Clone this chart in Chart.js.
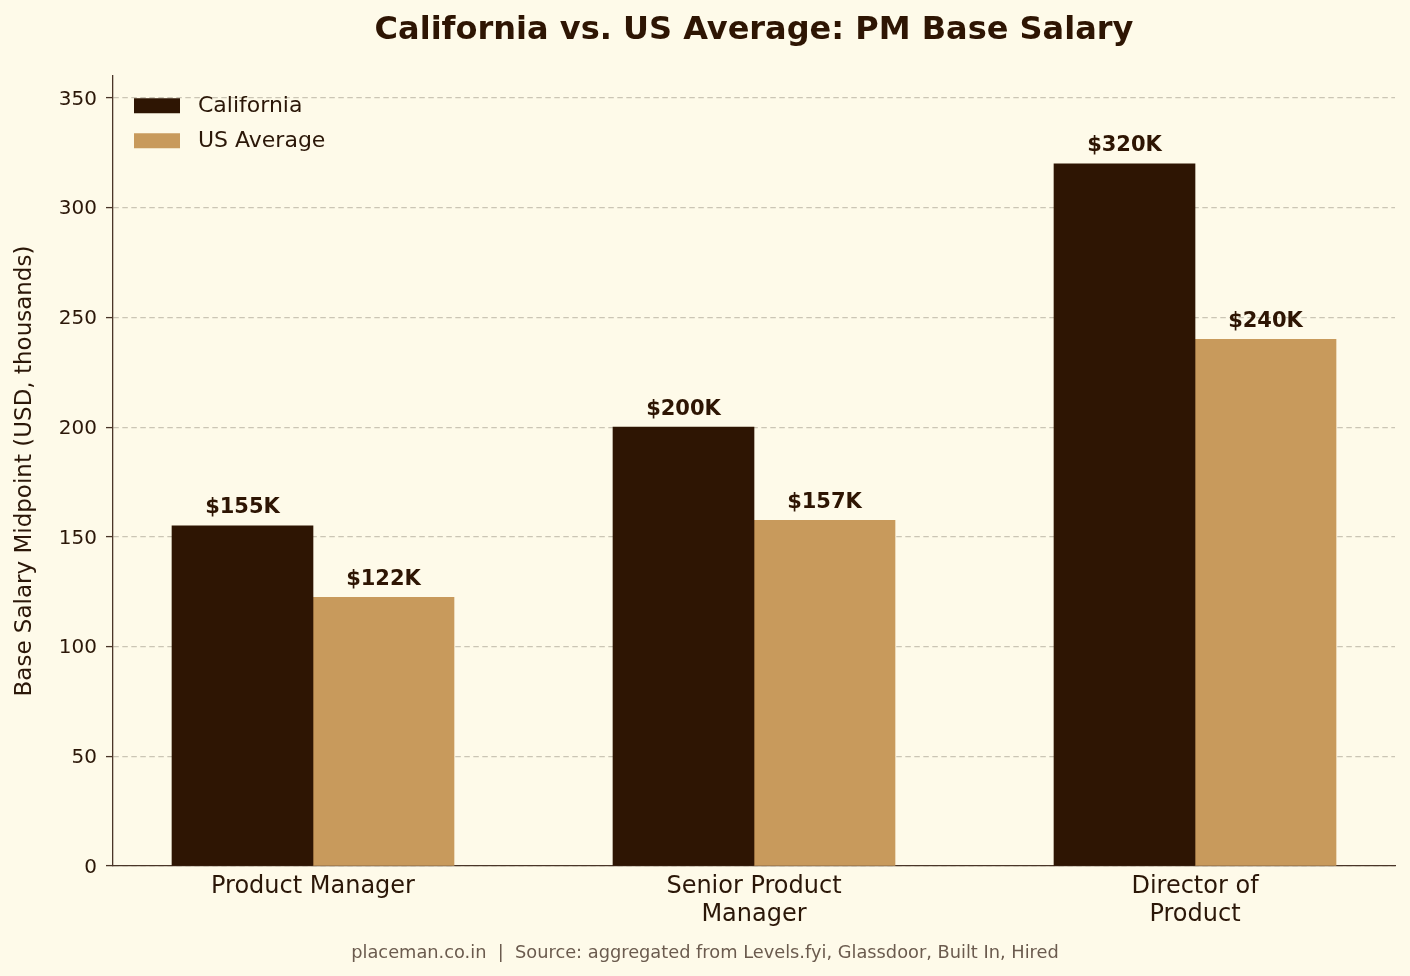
<!DOCTYPE html>
<html>
<head>
<meta charset="utf-8">
<script src="https://cdn.jsdelivr.net/npm/chart.js@4.4.1/dist/chart.umd.min.js"></script>
<style>
  html, body { margin: 0; padding: 0; background: #fefae9; }
  #wrap { width: 1410px; height: 976px; }
</style>
</head>
<body>
<div id="wrap"><canvas id="salaryChart" width="1410" height="976"></canvas></div>
<script>
// ---- data ----
const roles = ["Product Manager", ["Senior Product", "Manager"], ["Director of", "Product"]];
const californiaSalary = [155, 200, 320];
const usAverageSalary = [122.5, 157.5, 240];
const yTickValues = [0, 50, 100, 150, 200, 250, 300, 350];

const darkBrown = "#2e1503";
const tan = "#c89a5c";
const textColor = "#2b1708";
const axisColor = "#4a3528";
const font = "DejaVu Sans";

Chart.defaults.font.family = font;
Chart.defaults.color = textColor;

const roleIndex = roles.map((r, i) => i);

// value labels above bars
const valueLabels = {
    id: "valueLabels",
    afterDatasetsDraw(chart) {
        const ctx = chart.ctx;
        ctx.save();
        ctx.font = "bold 21px '" + font + "'";
        ctx.fillStyle = darkBrown;
        ctx.textAlign = "center";
        ctx.textBaseline = "alphabetic";
        chart.data.datasets.forEach((ds, di) => {
            chart.getDatasetMeta(di).data.forEach((bar, i) => {
                ctx.fillText("$" + Math.floor(ds.data[i].y) + "K", bar.x, bar.y - 12.5);
            });
        });
        ctx.restore();
    }
};

// put the legend inside the plot, top-left
const legendInside = {
    id: "legendInside",
    afterLayout(chart) {
        const lg = chart.legend, a = chart.chartArea;
        lg.left = a.left + 8;
        lg.top = a.top + 5.8;
        lg.right = a.right;
        lg.bottom = a.bottom;
    }
};

new Chart(document.getElementById("salaryChart"), {
    type: "bar",
    data: {
        datasets: [{
            label: "California",
            data: californiaSalary.map((v, i) => ({ x: roleIndex[i], y: v })),
            backgroundColor: darkBrown,
            borderWidth: 0,
            barThickness: 141
        }, {
            label: "US Average",
            data: usAverageSalary.map((v, i) => ({ x: roleIndex[i], y: v })),
            backgroundColor: tan,
            borderWidth: 0,
            barThickness: 141
        }]
    },
    options: {
        responsive: false,
        animation: false,
        devicePixelRatio: 1,
        layout: { padding: 0 },
        scales: {
            x: {
                type: "linear",
                offset: false,
                min: -0.4535,
                max: 2.4535,
                afterBuildTicks: scale => { scale.ticks = roleIndex.map(v => ({ value: v })); },
                afterFit: scale => { scale.height = 76.4; },
                ticks: {
                    callback: v => roles[v],
                    autoSkip: false,
                    maxRotation: 0,
                    padding: 6,
                    color: textColor,
                    font: { size: 24 }
                },
                grid: { display: false, drawTicks: false },
                border: { display: true, color: axisColor, width: 1.3 }
            },
            y: {
                min: 0,
                max: 360,
                afterBuildTicks: scale => { scale.ticks = yTickValues.map(v => ({ value: v })); },
                afterFit: scale => { scale.width = 113; },
                ticks: {
                    padding: 9,
                    labelOffset: 1.5,
                    color: textColor,
                    font: { size: 20 }
                },
                grid: {
                    color: "#cbc5b5",
                    lineWidth: 1.2,
                    tickLength: 7,
                    tickColor: axisColor,
                    tickWidth: 1.3,
                    tickBorderDash: []
                },
                border: { display: true, color: axisColor, width: 1.3, dash: [5.5, 3.5] },
                title: {
                    display: true,
                    text: "Base Salary Midpoint (USD, thousands)",
                    color: textColor,
                    font: { size: 23 },
                    padding: { top: 11, bottom: 0 }
                }
            },
            yRight: {
                position: "right",
                afterFit: scale => { scale.width = 15; },
                ticks: { display: false },
                grid: { display: false },
                border: { display: false }
            }
        },
        plugins: {
            title: {
                display: true,
                text: "California vs. US Average: PM Base Salary",
                fullSize: false,
                color: darkBrown,
                font: { size: 32, weight: "bold" },
                padding: { top: 11, bottom: 26.6 }
            },
            subtitle: {
                display: true,
                position: "bottom",
                text: "placeman.co.in  |  Source: aggregated from Levels.fyi, Glassdoor, Built In, Hired",
                color: "#6b5b4e",
                font: { size: 17.8 },
                padding: { top: 0, bottom: 12.2 }
            },
            legend: {
                position: "chartArea",
                align: "start",
                labels: {
                    boxWidth: 46,
                    boxHeight: 15,
                    padding: 13,
                    color: textColor,
                    font: { size: 22 },
                    generateLabels: chart => Chart.defaults.plugins.legend.labels.generateLabels(chart)
                        .map(item => ({ ...item, text: " " + item.text }))
                }
            },
            tooltip: { enabled: false }
        }
    },
    plugins: [valueLabels, legendInside]
});
</script>
</body>
</html>
